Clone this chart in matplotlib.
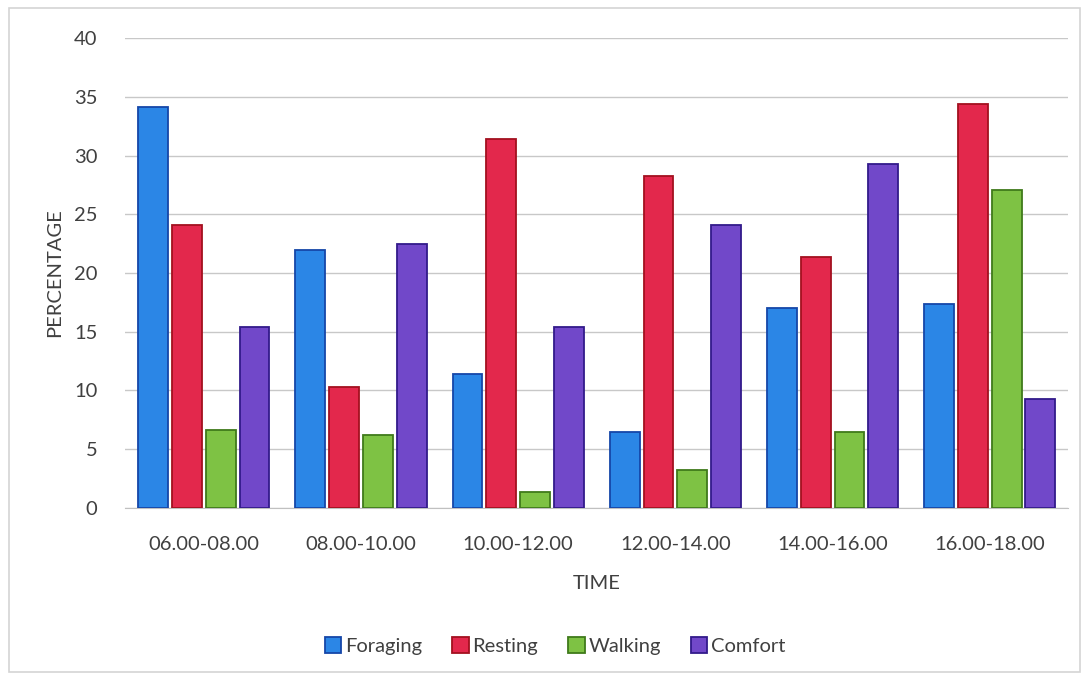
import numpy as np
import matplotlib
matplotlib.use("Agg")
import matplotlib.pyplot as plt
from matplotlib.patches import Rectangle

# 資料
times = ['06.00-08.00', '08.00-10.00', '10.00-12.00', '12.00-14.00', '14.00-16.00', '16.00-18.00']
foraging = [34.1, 22.0, 11.4, 6.5, 17.0, 17.4]
resting = [24.1, 10.3, 31.4, 28.3, 21.4, 34.4]
walking = [6.6, 6.2, 1.4, 3.2, 6.5, 27.1]
comfort = [15.4, 22.5, 15.4, 24.1, 29.3, 9.3]

series = [
    ('Foraging', foraging, '#2b86e6', '#1546a8'),
    ('Resting', resting, '#e3284c', '#a3101f'),
    ('Walking', walking, '#7ec244', '#3f7a1a'),
    ('Comfort', comfort, '#7148c9', '#321a8a'),
]

plt.rcParams['font.family'] = ['Lato', 'DejaVu Sans']

fig = plt.figure(figsize=(10.89, 6.8), dpi=100)
fig.patch.set_facecolor('white')
# 外框
fig.patches.append(Rectangle((0.008, 0.012), 0.984, 0.976, transform=fig.transFigure,
                             fill=False, edgecolor='#d4d4d4', linewidth=1.2))

ax = fig.add_axes([0.115, 0.253, 0.866, 0.691])

x = np.arange(len(times))
step = 0.215
width = 0.19
for i, (name, vals, fc, ec) in enumerate(series):
    offs = (i - 1.5) * step
    ax.bar(x + offs, vals, width=width, color=fc, edgecolor=ec, linewidth=1.3,
           label=name, zorder=3)

ax.set_xlim(-0.5, len(times) - 0.5)
ax.set_ylim(0, 40)
ax.set_yticks(range(0, 41, 5))
ax.set_xticks(x)
ax.set_xticklabels(times)
ax.tick_params(axis='both', length=0, labelsize=14.5, colors='#404040')
ax.tick_params(axis='x', pad=20)
ax.tick_params(axis='y', pad=20)
ax.grid(axis='y', color='#c8c8c8', linewidth=1, zorder=0)
for s in ['top', 'right', 'left']:
    ax.spines[s].set_visible(False)
ax.spines['bottom'].set_color('#c0c0c0')

ax.set_xlabel('TIME', fontsize=14.5, color='#404040', labelpad=16)
ax.set_ylabel('PERCENTAGE', fontsize=14.5, color='#404040', labelpad=8)

leg = fig.legend(loc='center', bbox_to_anchor=(0.51, 0.05), ncol=4, frameon=False,
                 fontsize=14.5, handlelength=0.8, handleheight=0.8, handletextpad=0.2,
                 columnspacing=1.5)
for t in leg.get_texts():
    t.set_color('#404040')

fig.savefig('out.png', dpi=100)
